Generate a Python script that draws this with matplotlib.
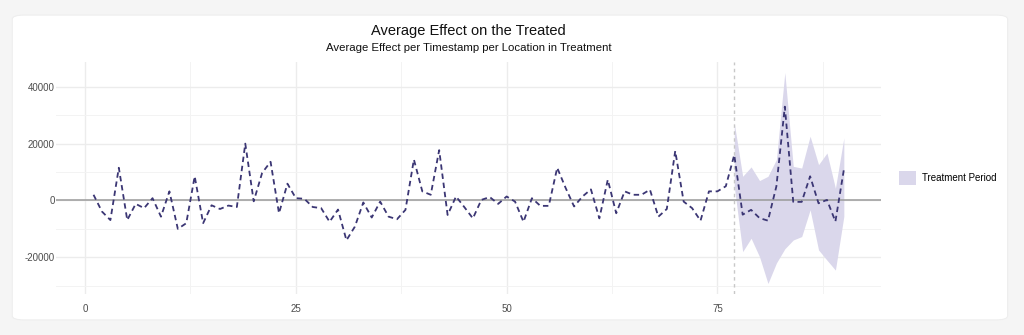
import numpy as np
import matplotlib
matplotlib.use("Agg")
import matplotlib.pyplot as plt
from matplotlib.patches import FancyBboxPatch, Patch

plt.rcParams['font.family'] = ['Liberation Sans', 'DejaVu Sans']

# Average treatment effect per timestamp
time = np.arange(1, 91)
effect = [
    2000, -3900, -6900, 11500, -6900, -1200, -2700, 800, -5700, 3200,
    -10000, -8000, 8500, -8000, -1700, -3000, -1800, -2300, 20000, -300,
    9700, 13600, -4500, 5900, 800, 600, -2300, -2700, -7500, -3200,
    -14000, -9200, -700, -6000, -400, -5700, -6600, -3300, 14400, 3200,
    2000, 17700, -5100, 1400, -2400, -6300, 200, 1200, -1200, 1400,
    -400, -7500, 800, -1900, -1900, 11500, 4400, -2100, 1400, 3900,
    -6300, 7300, -4500, 3200, 2000, 2000, 3800, -5700, -3000, 17400,
    -400, -2700, -7100, 3200, 3200, 5000, 16000, -5000, -3300, -6200,
    -7100, 5000, 33000, -500, -500, 8500, -1000, 200, -7400, 10800,
]

# Confidence band over the treatment period
treat_start = 77
treat_time = np.arange(77, 91)
band_upper = [27300, 8500, 11800, 7000, 8500, 14400, 45000,
              12000, 11400, 22600, 12600, 16700, 4300, 22000]
band_lower = [5000, -18000, -13300, -19800, -29200, -22000, -17000,
              -13900, -12700, -3300, -17400, -21000, -24500, -5600]

y_ticks = [-20000, 0, 20000, 40000]
x_ticks = [0, 25, 50, 75]

line_color = '#3b3674'
band_color = '#dad7eb'
grid_color = '#ececec'

fig = plt.figure(figsize=(10.24, 3.35), dpi=100)
fig.patch.set_facecolor('#f5f5f5')

# white card behind the plot
card = FancyBboxPatch((0.012, 0.045), 0.972, 0.91,
                      boxstyle='round,pad=0,rounding_size=0.012',
                      transform=fig.transFigure, facecolor='white',
                      edgecolor='#eeeeee', linewidth=0.8, zorder=-5)
fig.patches.append(card)

ax = fig.add_axes([0.0547, 0.1224, 0.806, 0.6925])
ax.set_facecolor('none')

ax.fill_between(treat_time, band_lower, band_upper, color=band_color,
                linewidth=0, zorder=2)
ax.axhline(0, color='#9a9a9a', linewidth=1.1, zorder=3)
ax.axvline(treat_start, color='#c8c8c8', linewidth=1.0,
           linestyle=(0, (2.5, 2.5)), zorder=3)
ax.plot(time, effect, color=line_color, linewidth=1.3,
        linestyle=(0, (3, 2.1)), zorder=4)

ax.set_xlim(-3.45, 94.45)
ax.set_ylim(-32900, 48700)
ax.set_xticks(x_ticks)
ax.set_yticks(y_ticks)
ax.set_xticks([12.5, 37.5, 62.5, 87.5], minor=True)
ax.set_yticks([-30000, -10000, 10000, 30000], minor=True)
ax.set_xticklabels([str(v) for v in x_ticks])
ax.set_yticklabels([str(v) for v in y_ticks])
ax.tick_params(which='both', length=0, labelsize=7, labelcolor='#4d4d4d')
ax.tick_params(axis='x', pad=7)
ax.tick_params(axis='y', pad=1)
ax.grid(True, which='major', color=grid_color, linewidth=1.0, zorder=0)
ax.grid(True, which='minor', color='#f3f3f3', linewidth=0.7, zorder=0)
ax.set_axisbelow(True)
for spine in ax.spines.values():
    spine.set_visible(False)

x_mid = 0.0547 + 0.806 / 2
fig.text(x_mid, 0.908, 'Average Effect on the Treated', ha='center',
         va='center', fontsize=10.5, color='#111111')
fig.text(x_mid, 0.856, 'Average Effect per Timestamp per Location in Treatment',
         ha='center', va='center', fontsize=8.2, color='#111111')

handle = Patch(facecolor=band_color, edgecolor='none', label='Treatment Period')
fig.legend(handles=[handle], loc='center left', bbox_to_anchor=(0.874, 0.468),
           frameon=False, fontsize=7, handlelength=1.8, handleheight=1.8,
           handletextpad=0.6, borderaxespad=0)

fig.savefig('out.png', dpi=100, facecolor=fig.get_facecolor())
